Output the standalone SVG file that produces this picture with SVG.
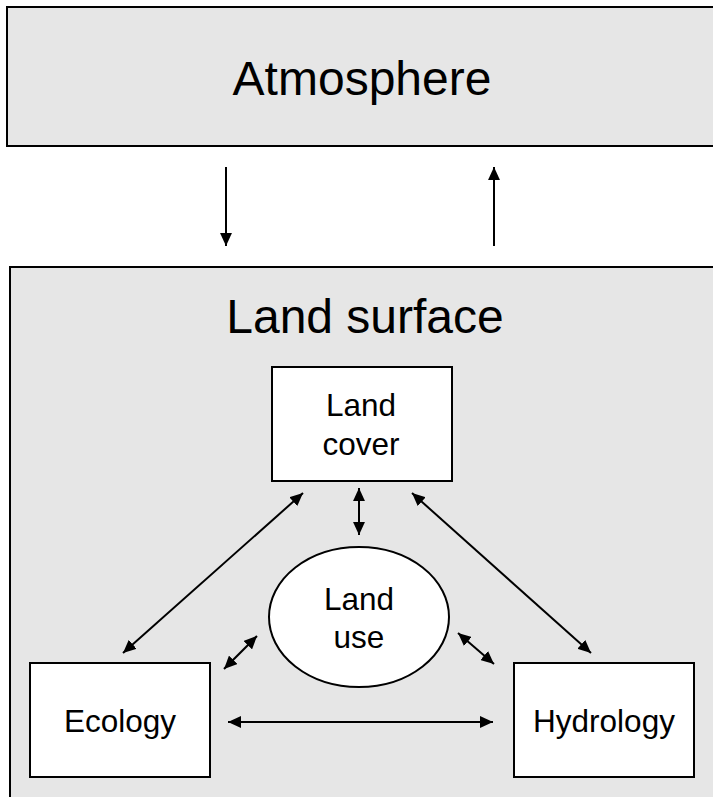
<svg xmlns="http://www.w3.org/2000/svg" width="713" height="797" viewBox="0 0 713 797">
<style>
.panel{fill:#e6e6e6;stroke:#000;stroke-width:2}
.node{fill:#fff;stroke:#000;stroke-width:2}
.t{font-family:"Liberation Sans",Arial,Helvetica,sans-serif;fill:#000;text-anchor:middle}
.big{font-size:48px}
.small{font-size:31.5px}
.c{fill:none;stroke:#000;stroke-width:2}
</style>
<defs>
<marker id="ah" markerUnits="userSpaceOnUse" markerWidth="13" markerHeight="12" refX="12" refY="5.5" orient="auto-start-reverse" viewBox="0 0 12 11">
<path d="M0,0 L12,5.5 L0,11 z" fill="#000"/>
</marker>
</defs>
<rect width="713" height="797" fill="#fff"/>
<g id="atmosphere">
<rect class="panel" x="7" y="7" width="720" height="139"/>
<text class="t big" x="362" y="95">Atmosphere</text>
</g>
<g id="land-surface">
<rect class="panel" x="10" y="267" width="720" height="540"/>
<text class="t big" x="365" y="333">Land surface</text>
</g>
<g id="land-cover">
<rect class="node" x="272" y="367" width="180" height="114"/>
<text class="t small" x="361" y="416">Land</text>
<text class="t small" x="361" y="455">cover</text>
</g>
<g id="land-use">
<ellipse class="node" cx="359" cy="617" rx="90" ry="70"/>
<text class="t small" x="359" y="610">Land</text>
<text class="t small" x="359" y="648">use</text>
</g>
<g id="ecology">
<rect class="node" x="30" y="663" width="180" height="114"/>
<text class="t small" x="120" y="732">Ecology</text>
</g>
<g id="hydrology">
<rect class="node" x="514" y="663" width="180" height="114"/>
<text class="t small" x="604" y="732">Hydrology</text>
</g>
<g id="connectors">
<line class="c" x1="226" y1="167" x2="226" y2="246" marker-end="url(#ah)"/>
<line class="c" x1="494" y1="246" x2="494" y2="167" marker-end="url(#ah)"/>
<line class="c" x1="359" y1="488" x2="359" y2="535" marker-start="url(#ah)" marker-end="url(#ah)"/>
<line class="c" x1="303" y1="493" x2="123" y2="653" marker-start="url(#ah)" marker-end="url(#ah)"/>
<line class="c" x1="412" y1="493" x2="591" y2="653" marker-start="url(#ah)" marker-end="url(#ah)"/>
<line class="c" x1="224" y1="669" x2="257" y2="636" marker-start="url(#ah)" marker-end="url(#ah)"/>
<line class="c" x1="458" y1="633" x2="494" y2="664" marker-start="url(#ah)" marker-end="url(#ah)"/>
<line class="c" x1="228" y1="722" x2="493" y2="722" marker-start="url(#ah)" marker-end="url(#ah)"/>
</g>
</svg>
